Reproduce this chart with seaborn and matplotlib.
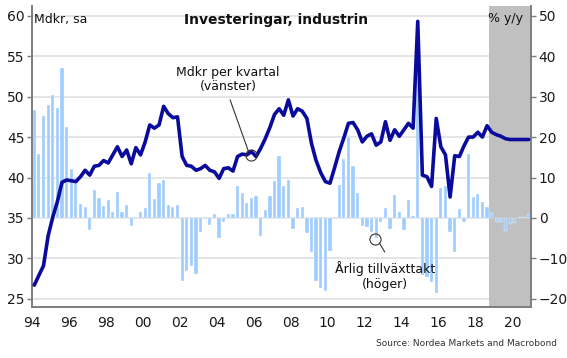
import pandas as pd
import numpy as np
import seaborn as sns
import matplotlib.pyplot as plt

# quarterly data 1994Q1 - 2020Q4
quarters = pd.period_range('1994Q1', '2020Q4', freq='Q')

# investment, bn SEK per quarter (left axis)
invest_bn = [26.7, 27.9, 29.1, 32.8,  35.1, 37.0, 39.4, 39.7,
             39.6, 39.5, 40.1, 40.9,  40.3, 41.4, 41.5, 42.1,
             41.8, 42.8, 43.8, 42.6,  43.4, 41.7, 43.7, 42.8,
             44.4, 46.5, 46.1, 46.5,  48.8, 47.9, 47.4, 47.5,
             42.6, 41.5, 41.4, 40.9,  41.1, 41.5, 40.9, 40.7,
             39.9, 41.1, 41.2, 40.8,  42.6, 42.9, 42.8, 43.2,
             42.6, 43.6, 44.8, 46.2,  47.8, 48.5, 47.7, 49.6,
             47.6, 48.5, 48.2, 47.3,  44.2, 42.1, 40.6, 39.5,
             39.3, 41.2, 43.2, 44.9,  46.7, 46.8, 45.9, 44.4,
             45.1, 45.4, 44.0, 44.4,  46.9, 44.6, 45.9, 45.1,
             45.9, 46.7, 46.1, 59.3,  40.3, 40.1, 38.9, 47.3,
             43.8, 42.8, 37.6, 42.7,  42.6, 43.9, 45.0, 45.0,
             45.6, 45.0, 46.4, 45.6,  45.3, 45.1, 44.8, 44.7,
             44.7, 44.7, 44.7, 44.7]

# annual growth, % y/y (right axis)
growth_yy = [26.7, 15.7, 25.3, 27.9,  30.3, 27.1, 37.0, 22.4,
             12.2, 8.6, 3.5, 2.6,     -3.0, 6.8, 4.9, 3.0,
             4.5, 1.5, 6.4, 1.6,      3.2, -2.1, 0.3, 1.6,
             2.4, 11.2, 4.7, 8.7,     9.4, 3.2, 2.7, 3.2,
             -15.5, -13.0, -11.8, -13.9,  -3.4, -0.2, -1.7, 1.0,
             -4.9, -0.9, 0.9, 1.0,    7.9, 6.1, 3.8, 5.0,
             5.4, -4.4, 2.0, 5.4,     9.2, 15.3, 7.9, 9.4,
             -2.6, 2.4, 2.7, -3.6,    -8.3, -15.5, -17.4, -18.0,
             -8.1, 0.2, 8.2, 14.5,    20.1, 12.9, 6.1, -2.0,
             -2.3, -3.4, -5.0, -1.1,  2.4, -2.6, 5.7, 1.4,
             -3.0, 4.5, 0.5, 37.5,    -14.1, -14.5, -15.8, -18.6,
             7.3, 7.9, -3.5, -8.3,    2.1, -1.1, 15.8, 5.3,
             5.9, 3.9, 2.6, 1.3,      -0.9, -0.9, -3.1, -1.6,
             -1.3, 0.3, 0.3, 0.9]

tick_years = list(range(1994, 2021, 2))
tick_labels = [str(y)[2:] for y in tick_years]
forecast_start = '2018-10-01'

df = pd.DataFrame({'date': quarters.start_time + (quarters.end_time - quarters.start_time) / 2,
                   'invest': invest_bn, 'growth': growth_yy})

sns.set_theme(style='white')
plt.rcParams['font.family'] = ['DejaVu Sans']

navy = '#0a0a9c'
light_blue = '#9fcdff'
spine_col = '#7f7f7f'

fig, ax = plt.subplots(figsize=(5.67, 3.58), dpi=100)
fig.subplots_adjust(left=32/567, right=531/567, bottom=51/358, top=352/358)
ax2 = ax.twinx()

# bars on right axis, line on left axis drawn on top
ax.set_zorder(ax2.get_zorder() + 1)
ax.patch.set_visible(False)

ax2.set_axisbelow(True)
ax2.yaxis.grid(True, color='#e3e3e3', linewidth=1.3)
ax2.axvspan(pd.Timestamp(forecast_start), pd.Timestamp('2021-01-01'), color='#c0c0c0', zorder=0.8, lw=0)
ax2.bar(df['date'], df['growth'], width=64, color=light_blue, edgecolor='white', linewidth=0.25, zorder=2)

sns.lineplot(data=df, x='date', y='invest', ax=ax, color=navy, linewidth=2.6, zorder=3)

ax.set_xlim(pd.Timestamp('1994-01-01'), pd.Timestamp('2021-01-01'))
ax.set_ylim(24.0, 61.2)
ax2.set_ylim(-22.0, 52.4)
ax.set_yticks(range(25, 61, 5))
ax2.set_yticks(range(-20, 51, 10))
ax.set_xticks(pd.to_datetime([f'{y}-01-01' for y in tick_years]))
ax.set_xticklabels(tick_labels)
ax.set_xlabel('')
ax.set_ylabel('')

for a in (ax, ax2):
    a.spines['top'].set_visible(False)
    for s in ('left', 'right', 'bottom'):
        a.spines[s].set_color(spine_col)
        a.spines[s].set_linewidth(1.3)
    a.tick_params(axis='both', labelsize=10, colors='#1a1a1a', length=3.5, width=1, pad=2, direction='out')
    a.tick_params(axis='both', color=spine_col)
ax.tick_params(axis='x', pad=3)

# texts
ax.text(0.004, 0.955, 'Mdkr, sa', transform=ax.transAxes, fontsize=9, ha='left', va='center', color='#111')
ax.text(0.49, 0.955, 'Investeringar, industrin', transform=ax.transAxes, fontsize=10,
        fontweight='bold', ha='center', va='center', color='#111')
ax.text(0.948, 0.96, '% y/y', transform=ax.transAxes, fontsize=9, ha='center', va='center', color='#111')

# annotation: line series
ax.text(pd.Timestamp('2004-08-10'), 52.1, 'Mdkr per kvartal\n(vänster)', fontsize=9,
        ha='center', va='center', color='#111', linespacing=1.15)
ax.plot([pd.Timestamp('2004-09-20'), pd.Timestamp('2005-09-20')], [49.6, 43.2], color='#333', lw=0.8, zorder=4)
ax.plot([pd.Timestamp('2005-11-10')], [42.8], marker='o', ms=8, mfc='none', mec='#333', mew=0.8, zorder=4)

# annotation: bars
ax.plot([pd.Timestamp('2012-07-30')], [32.4], marker='o', ms=8, mfc='none', mec='#333', mew=0.8, zorder=4)
ax.plot([pd.Timestamp('2012-10-20'), pd.Timestamp('2013-02-01')], [31.9, 30.8], color='#333', lw=0.8, zorder=4)
ax.text(pd.Timestamp('2013-02-10'), 27.8, 'Årlig tillväxttakt\n(höger)', fontsize=9,
        ha='center', va='center', color='#111', linespacing=1.15)

fig.text(557/567, 1 - 343/358, 'Source: Nordea Markets and Macrobond', fontsize=6.5,
         ha='right', va='center', color='#333')

fig.savefig('out.png', dpi=100)
